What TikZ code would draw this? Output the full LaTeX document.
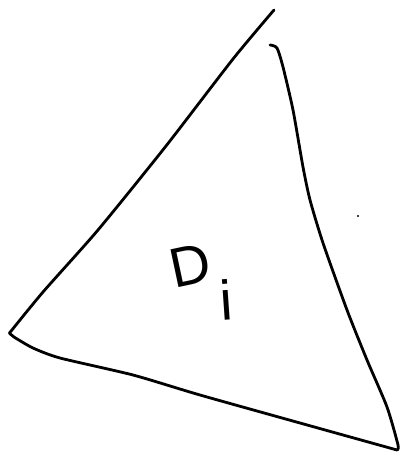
\documentclass[tikz,border=0pt]{standalone}
\usepackage{fontspec}
\setmainfont{Liberation Sans}
\begin{document}
\begin{tikzpicture}[x=1pt,y=-1pt,
  stroke/.style={line width=2.8pt,line cap=round,line join=round},
  hand/.style={font=\fontsize{56}{56}\selectfont,inner sep=0pt}]
\useasboundingbox (0,0) rectangle (402,454);
\fill[white] (0,0) rectangle (402,454);
% left edge
\draw[stroke] plot[smooth,tension=0.4] coordinates {(274,10) (233,59) (166,146) (98,230) (43,292) (9.5,333)};
% bottom edge
\draw[stroke] plot[smooth,tension=0.4] coordinates {(9.5,333) (14,337) (33,348) (60,358) (133,375) (200,395) (300,423) (397,450)};
% right edge
\draw[stroke] plot[smooth,tension=0.4] coordinates {(270,45) (277,48) (283,67) (293,110) (303,167) (310,200) (323,243) (347,310) (367,360) (387,407) (398,445) (397,450)};
% stray dot
\fill (358,216) circle (1.1);
% label
\node[hand,rotate=12] (D) at (190,265) {D};
\node[hand,rotate=4] (i) at (226,300) {i};
\end{tikzpicture}
\end{document}
